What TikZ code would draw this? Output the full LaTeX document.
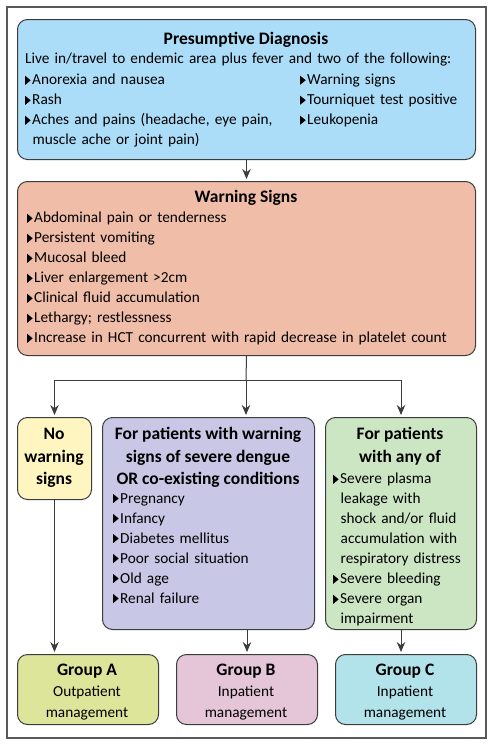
\documentclass[tikz,border=0pt]{standalone}
\usepackage{fontspec}
\setmainfont{Carlito}
\usetikzlibrary{arrows.meta,positioning}

\definecolor{diagblue}{HTML}{ABDDF8}
\definecolor{warnred}{HTML}{F0BDA8}
\definecolor{noyellow}{HTML}{FFF5C0}
\definecolor{bpurple}{HTML}{C8C8E6}
\definecolor{cgreen}{HTML}{CCE6C4}
\definecolor{grpa}{HTML}{DDE59A}
\definecolor{grpb}{HTML}{E5C5D8}
\definecolor{grpc}{HTML}{B2E2EA}
\definecolor{edge}{HTML}{3C3C3C}

\newcommand{\bul}{\tikz[baseline=0pt]\fill (0pt,0pt)--(0pt,9pt)--(5.5pt,4.5pt)--cycle;\hspace{1.5pt}}
\newcommand{\ind}{\hspace*{7.5pt}}

\begin{document}
\begin{tikzpicture}[x=1pt,y=-1pt,>=Stealth,
  box/.style={draw=edge,line width=1pt,rounded corners=10pt,anchor=north west,inner sep=0pt},
  head/.style={inner sep=0pt,anchor=north,align=center,font=\bfseries\fontsize{17.5}{22.5}\selectfont},
  txt/.style={inner sep=0pt,anchor=north west,align=left,text width=#1,font=\fontsize{15.3}{20}\selectfont},
  txt/.default=200pt,
  sub/.style={inner sep=0pt,anchor=north,align=center,font=\fontsize{15.3}{20.5}\selectfont},
  arr/.style={draw=edge,line width=1pt,-{Stealth[length=10pt,width=8.5pt]},shorten >=2pt}]
\useasboundingbox (0,0) rectangle (493,745);
\draw[edge!85,line width=1.3pt] (7,7) rectangle (486,738);

% presumptive diagnosis
\node[box,fill=diagblue,minimum width=458pt,minimum height=140pt] (diag) at (17,19) {};
\node[head] (diaghead) at (246,32) {Presumptive Diagnosis};
\node[txt=450pt] (diaglive) at (25,53) {Live in/travel to endemic area plus fever and two of the following:};
\node[txt=270pt] (diagleft) at (25,74) {\bul Anorexia and nausea\\\bul Rash\\\bul Aches and pains (headache, eye pain,\\\ind muscle ache or joint pain)};
\node[txt=170pt] (diagright) at (300,74) {\bul Warning signs\\\bul Tourniquet test positive\\\bul Leukopenia};

% warning signs
\node[box,fill=warnred,minimum width=458pt,minimum height=174pt] (warn) at (17,181) {};
\node[head] (warnhead) at (246,190) {Warning Signs};
\node[txt=445pt] (warnlist) at (27,212) {\bul Abdominal pain or tenderness\\\bul Persistent vomiting\\\bul Mucosal bleed\\\bul Liver enlargement >2cm\\\bul Clinical fluid accumulation\\\bul Lethargy; restlessness\\\bul Increase in HCT concurrent with rapid decrease in platelet count};

% three branches
\node[box,fill=noyellow,minimum width=74pt,minimum height=82pt] (nowarn) at (17,417) {};
\node[head] (nowarnhead) at (54,428) {No\\warning\\signs};

\node[box,fill=bpurple,minimum width=212pt,minimum height=212pt] (purple) at (102,417) {};
\node[head] (purplehead) at (208,427) {For patients with warning\\signs of severe dengue\\OR co-existing conditions};
\node[txt] (purplelist) at (113,493) {\bul Pregnancy\\\bul Infancy\\\bul Diabetes mellitus\\\bul Poor social situation\\\bul Old age\\\bul Renal failure};

\node[box,fill=cgreen,minimum width=151pt,minimum height=212pt] (green) at (325,417) {};
\node[head] (greenhead) at (400,427) {For patients\\with any of};
\node[txt=148pt] (greenlist) at (333,473) {\bul Severe plasma\\\ind leakage with\\\ind shock and/or fluid\\\ind accumulation with\\\ind respiratory distress\\\bul Severe bleeding\\\bul Severe organ\\\ind impairment};

% groups
\node[box,fill=grpa,minimum width=141pt,minimum height=70pt] (grpA) at (17,654) {};
\node[head] (grpAhead) at (87,664) {Group A};
\node[sub] (grpAsub) at (87,686) {Outpatient\\management};
\node[box,fill=grpb,minimum width=141pt,minimum height=70pt] (grpB) at (176,654) {};
\node[head] (grpBhead) at (246,664) {Group B};
\node[sub] (grpBsub) at (246,686) {Inpatient\\management};
\node[box,fill=grpc,minimum width=141pt,minimum height=70pt] (grpC) at (335,654) {};
\node[head] (grpChead) at (405,664) {Group C};
\node[sub] (grpCsub) at (405,686) {Inpatient\\management};

% connectors
\coordinate (split) at (246,380);
\draw[arr] (diag.south) -- (warn.north);
\draw[draw=edge,line width=1pt] (warn.south) -- (split);
\draw[arr] (split) -| (nowarn.north);
\draw[arr] (split) -- (split |- purple.north);
\draw[arr] (split) -| (green.north);
\draw[arr] (nowarn.south) -- (nowarn.south |- grpA.north);
\draw[arr] (purple.south -| grpB.north) -- (grpB.north);
\draw[arr] (green.south) -- (green.south |- grpC.north);
\end{tikzpicture}
\end{document}
